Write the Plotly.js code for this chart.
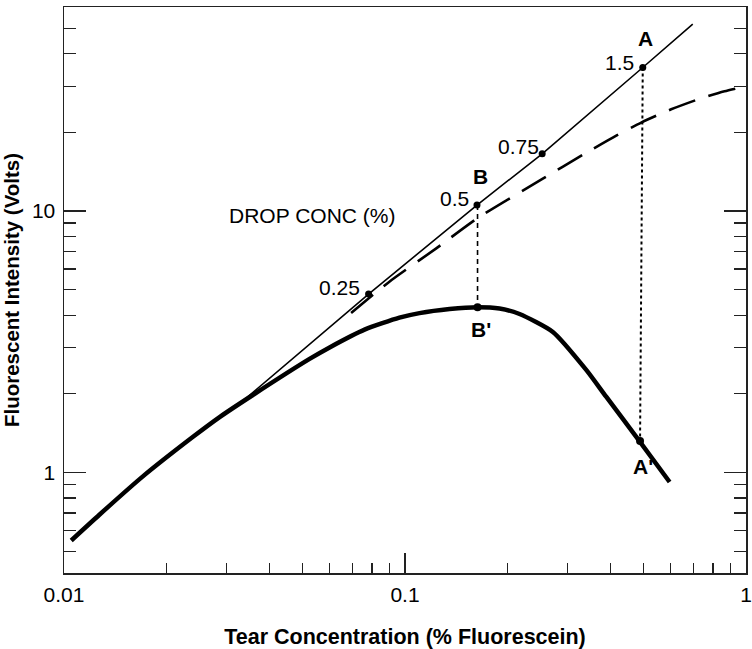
<!DOCTYPE html>
<html>
<head>
<meta charset="utf-8">
<script src="https://cdn.plot.ly/plotly-3.0.1.min.js"></script>
<style>html,body{margin:0;padding:0;background:#fff;}#chart{width:752px;height:649px;}</style>
</head>
<body>
<div id="chart"></div>
<script>
// Thick measured curve (tear concentration vs fluorescence)
const thickX = [0.0105, 0.0127, 0.0170, 0.0239, 0.0286, 0.0358, 0.0525, 0.0601, 0.0761, 0.0963, 0.1103, 0.1351, 0.1632, 0.1893, 0.2167, 0.2714, 0.340, 0.389, 0.487, 0.597];
const thickY = [0.55, 0.69, 0.965, 1.37, 1.63, 1.98, 2.72, 3.01, 3.52, 3.91, 4.07, 4.22, 4.29, 4.24, 4.04, 3.45, 2.47, 1.95, 1.32, 0.92];

// Thin straight (linear) line
const thinX = [0.0335, 0.0782, 0.1626, 0.2525, 0.498, 0.698];
const thinY = [1.88, 4.815, 10.54, 16.56, 35.4, 51.9];

// Long-dashed curve
const dashX = [0.0695, 0.0900, 0.1235, 0.1632, 0.2536, 0.336, 0.4164, 0.4928, 0.6035, 0.739, 0.865, 1.0];
const dashY = [4.08, 5.37, 7.2, 9.40, 13.3, 16.56, 19.44, 21.8, 24.5, 27.0, 28.7, 30.0];

// Drop concentration points on the thin line
const dropX = [0.0782, 0.1626, 0.2525, 0.498];
const dropY = [4.815, 10.54, 16.56, 35.4];
const dropLabels = ['0.25', '0.5', '0.75', '1.5'];

// Primed points on the thick curve
const primeX = [0.1632, 0.489];
const primeY = [4.29, 1.32];
const primeLabels = ["B'", "A'"];

// Vertical connectors B-B' and A-A'
const bLineX = [0.1632, 0.1632];
const bLineY = [10.54, 4.29];
const aLineX = [0.498, 0.489];
const aLineY = [35.4, 1.32];

// Axis ticks
const xTickVals = [0.01, 0.1, 1];
const xTickText = ['0.01', '0.1', '1'];
const xMinor = [0.02,0.03,0.04,0.05,0.06,0.07,0.08,0.09,0.2,0.3,0.4,0.5,0.6,0.7,0.8,0.9];
const yTickVals = [1, 10];
const yTickText = ['1', '10'];
const yMinor = [0.5,0.6,0.7,0.8,0.9,2,3,4,5,6,7,8,9,20,30,40,50];

const FONT = 'Liberation Sans, Arial, Helvetica, sans-serif';
const TXT = 21;

const traces = [
  {x: thickX, y: thickY, mode: 'lines', line: {color: '#000', width: 4.5, shape: 'spline', smoothing: 0.6}, hoverinfo: 'skip'},
  {x: thinX, y: thinY, mode: 'lines', line: {color: '#000', width: 1.6}, hoverinfo: 'skip'},
  {x: dashX, y: dashY, mode: 'lines', line: {color: '#000', width: 2.6, dash: '28px,14px', shape: 'spline', smoothing: 0.6}, hoverinfo: 'skip'},
  {x: bLineX, y: bLineY, mode: 'lines', line: {color: '#000', width: 1.6, dash: '5px,4px'}, hoverinfo: 'skip'},
  {x: aLineX, y: aLineY, mode: 'lines', line: {color: '#000', width: 2, dash: '3px,3px'}, hoverinfo: 'skip'},
  {x: dropX, y: dropY, mode: 'markers', marker: {color: '#000', size: 7}, hoverinfo: 'skip'},
  {x: primeX, y: primeY, mode: 'markers', marker: {color: '#000', size: 8}, hoverinfo: 'skip'}
];

const numShift = [[-29, 7], [-22, 7], [-24, 7], [-23, 5]];
const annotations = [];
dropX.forEach((x, i) => {
  annotations.push({x: Math.log10(x), y: Math.log10(dropY[i]), xref: 'x', yref: 'y', text: dropLabels[i], showarrow: false,
    xshift: numShift[i][0], yshift: numShift[i][1], font: {family: FONT, size: TXT, color: '#000'}});
});
annotations.push({x: Math.log10(dropX[1]), y: Math.log10(dropY[1]), xref: 'x', yref: 'y', text: '<b>B</b>', showarrow: false, xshift: 4, yshift: 29, font: {family: FONT, size: TXT, color: '#000'}});
annotations.push({x: Math.log10(dropX[3]), y: Math.log10(dropY[3]), xref: 'x', yref: 'y', text: '<b>A</b>', showarrow: false, xshift: 3, yshift: 29, font: {family: FONT, size: TXT, color: '#000'}});
annotations.push({x: Math.log10(primeX[0]), y: Math.log10(primeY[0]), xref: 'x', yref: 'y', text: '<b>' + primeLabels[0] + '</b>', showarrow: false, xshift: 3, yshift: -22, font: {family: FONT, size: TXT, color: '#000'}});
annotations.push({x: Math.log10(primeX[1]), y: Math.log10(primeY[1]), xref: 'x', yref: 'y', text: '<b>' + primeLabels[1] + '</b>', showarrow: false, xshift: 3, yshift: -25, font: {family: FONT, size: TXT, color: '#000'}});
annotations.push({x: Math.log10(0.0300), y: Math.log10(9.65), xref: 'x', yref: 'y', text: 'DROP CONC (%)', showarrow: false, xanchor: 'left', font: {family: FONT, size: TXT, color: '#000'}});

const layout = {
  width: 752, height: 649,
  margin: {l: 64, r: 6, t: 7, b: 76},
  paper_bgcolor: '#fff', plot_bgcolor: '#fff',
  showlegend: false,
  font: {family: FONT, color: '#000'},
  annotations: annotations,
  xaxis: {
    type: 'log', range: [-2, 0],
    showgrid: false, zeroline: false,
    showline: true, linecolor: '#222', linewidth: 1.5, mirror: true,
    ticks: 'inside', ticklen: 20, tickwidth: 1.2, tickcolor: '#222',
    tickmode: 'array', tickvals: xTickVals, ticktext: xTickText,
    tickfont: {family: FONT, size: 21, color: '#000'},
    ticklabelstandoff: 2,
    minor: {tickmode: 'array', tickvals: xMinor, ticks: 'inside', ticklen: 10, tickwidth: 1.2, tickcolor: '#222', showgrid: false},
    title: {text: '<b>Tear Concentration (% Fluorescein)</b>', font: {family: FONT, size: 21.5, color: '#000'}, standoff: 27}
  },
  yaxis: {
    type: 'log', range: [Math.log10(0.413), Math.log10(60.3)],
    showgrid: false, zeroline: false,
    showline: true, linecolor: '#222', linewidth: 1.5, mirror: 'allticks',
    ticks: 'inside', ticklen: 22, tickwidth: 1.2, tickcolor: '#222',
    tickmode: 'array', tickvals: yTickVals, ticktext: yTickText,
    tickfont: {family: FONT, size: 21, color: '#000'},
    ticklabelstandoff: 3,
    minor: {tickmode: 'array', tickvals: yMinor, ticks: 'inside', ticklen: 12, tickwidth: 1.2, tickcolor: '#222', showgrid: false},
    title: {text: '<b>Fluorescent Intensity (Volts)</b>', font: {family: FONT, size: 20.5, color: '#000'}, standoff: 9}
  }
};

Plotly.newPlot('chart', traces, layout, {staticPlot: true, displayModeBar: false});
</script>
</body>
</html>
